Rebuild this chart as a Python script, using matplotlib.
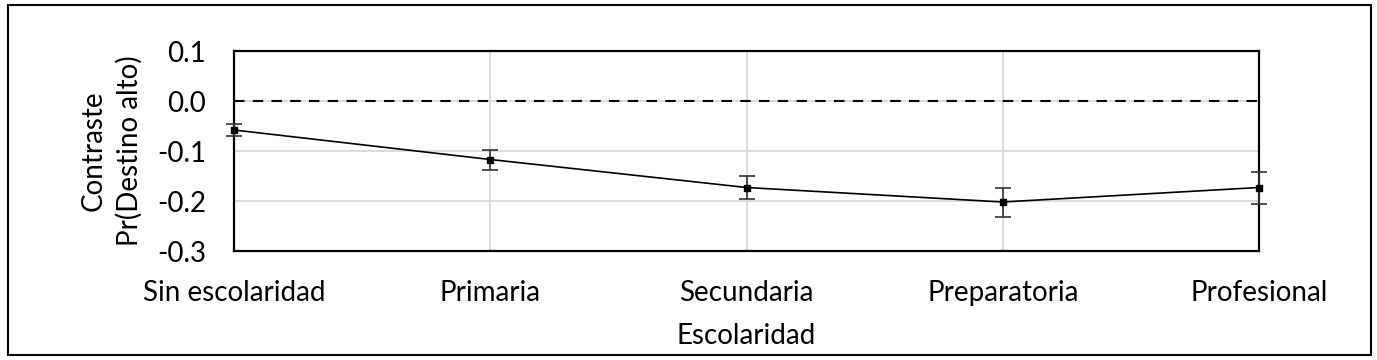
import matplotlib

matplotlib.use("Agg")
import matplotlib.pyplot as plt
from matplotlib.patches import Rectangle

categories = ["Sin escolaridad", "Primaria", "Secundaria", "Preparatoria", "Profesional"]
contrast = [-0.058, -0.117, -0.173, -0.202, -0.173]
err = [0.012, 0.020, 0.023, 0.029, 0.032]
yticks = [0.1, 0.0, -0.1, -0.2, -0.3]

plt.rcParams["font.family"] = ["Lato", "DejaVu Sans"]

fig = plt.figure(figsize=(13.77, 3.6), dpi=100)
ax = fig.add_axes([234 / 1377, 1 - 251 / 360, (1259 - 234) / 1377, 200 / 360])

x = list(range(len(categories)))
ax.errorbar(x, contrast, yerr=err, color="black", lw=1.2, marker="s", ms=5,
            ecolor="#333333", elinewidth=1.2, capsize=6, capthick=1.2, clip_on=False, zorder=3)
ax.axhline(0, color="black", lw=1.5, ls=(0, (5, 4)), zorder=2)

ax.set_xlim(0, len(categories) - 1)
ax.set_ylim(-0.3, 0.1)
ax.set_yticks(yticks)
ax.set_yticklabels([f"{v:.1f}" for v in yticks])
ax.set_xticks(x)
ax.set_xticklabels(categories)
ax.tick_params(length=0, labelsize=20)
ax.tick_params(axis="y", pad=20)
ax.tick_params(axis="x", pad=21)
ax.grid(True, color="#d9d9d9", lw=1.3)
ax.set_axisbelow(True)
for s in ax.spines.values():
    s.set_linewidth(1.6)

ax.set_xlabel("Escolaridad", fontsize=20, labelpad=12)
ax.set_ylabel("Contraste\nPr(Destino alto)", fontsize=20, labelpad=10, linespacing=1.45)

fig.patches.append(Rectangle((8 / 1377, 5 / 360), 1363 / 1377, 350 / 360, transform=fig.transFigure,
                             fill=False, edgecolor="black", lw=1.5))

fig.savefig("out.png", dpi=100)
